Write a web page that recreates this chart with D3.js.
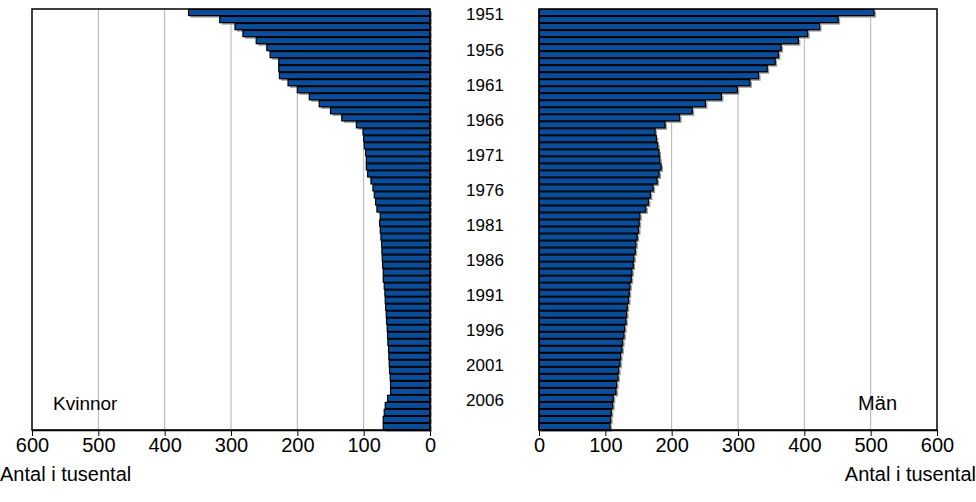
<!DOCTYPE html>
<html>
<head>
<meta charset="utf-8">
<script src="https://cdnjs.cloudflare.com/ajax/libs/d3/7.8.5/d3.min.js"></script>
<style>
  body { margin: 0; background: #fff; }
  text { font-family: "Liberation Sans", Arial, sans-serif; }
</style>
</head>
<body>
<div id="chart"></div>
<script>
// years 1951-2010, values in thousands
let years = d3.range(1951, 2011)
let kvinnor = [
    364, 317, 294, 282, 262, 246, 241, 228, 228, 227,
    214, 200, 182, 167, 150, 133, 111, 101, 100, 99,
    97, 96, 96, 94, 89, 86, 84, 82, 80, 75,
    76, 75, 74, 73, 72.5, 72, 71.5, 70.5, 70.5, 69,
    68, 67.5, 67, 66, 65.5, 64.5, 64, 63.5, 62.5, 62,
    61.5, 61, 60, 59.5, 59.5, 64, 67.5, 69, 70.5, 70.5
]
let man = [
    505, 451, 423, 405, 391, 365, 361, 356, 344, 331,
    318, 299, 275, 251, 231, 212, 190, 175, 177, 179,
    181, 182, 184, 181, 178, 172, 168, 165, 161, 152,
    151, 150, 148, 146, 145, 143, 142, 140, 139, 137,
    136, 135, 133, 132, 131, 129, 128, 126, 125, 123,
    122, 120, 119, 117, 116, 112, 111, 109, 108, 107
]
let ticks = [0, 100, 200, 300, 400, 500, 600]
let yearLabels = [1951, 1956, 1961, 1966, 1971, 1976, 1981, 1986, 1991, 1996, 2001, 2006]

let width = 976
let height = 502
let plotTop = 9
let plotBottom = 430

let svg = d3.select("#chart")
    .append("svg")
    .attr("width", width)
    .attr("height", height)

let y = d3.scaleBand()
    .domain(years)
    .range([plotTop, plotBottom])
    .paddingInner(0.12)
    .paddingOuter(0.06)

let xLeft = d3.scaleLinear().domain([0, 600]).range([430, 32])
let xRight = d3.scaleLinear().domain([0, 600]).range([539, 937])

drawPanel(xLeft, kvinnor)
drawPanel(xRight, man)

function drawPanel(x, values) {
    let g = svg.append("g")
    let x0 = Math.min(x.range()[0], x.range()[1])
    let x1 = Math.max(x.range()[0], x.range()[1])

    // grid
    g.selectAll(".grid")
        .data(ticks.filter(t => t > 0 && t < 600))
        .enter()
        .append("line")
        .attr("x1", d => x(d))
        .attr("x2", d => x(d))
        .attr("y1", plotTop)
        .attr("y2", plotBottom)
        .attr("stroke", "#b0b0b0")
        .attr("stroke-width", 1)

    // shadows
    g.selectAll(".shadow")
        .data(values)
        .enter()
        .append("rect")
        .attr("x", d => Math.min(x(0), x(d)) + 2)
        .attr("y", (d, i) => y(years[i]) + 2)
        .attr("width", d => Math.abs(x(d) - x(0)))
        .attr("height", y.bandwidth())
        .attr("fill", "#9a9a9a")

    // bars
    g.selectAll(".bar")
        .data(values)
        .enter()
        .append("rect")
        .attr("x", d => Math.min(x(0), x(d)))
        .attr("y", (d, i) => y(years[i]))
        .attr("width", d => Math.abs(x(d) - x(0)))
        .attr("height", y.bandwidth())
        .attr("fill", "#0A4D9B")
        .attr("stroke", "#000")
        .attr("stroke-width", 1.2)

    // frame
    g.append("rect")
        .attr("x", x0)
        .attr("y", plotTop)
        .attr("width", x1 - x0)
        .attr("height", plotBottom - plotTop)
        .attr("fill", "none")
        .attr("stroke", "#000")
        .attr("stroke-width", 1.5)

    // axis
    let axis = d3.axisBottom(x)
        .tickValues(ticks)
        .tickSize(6)
        .tickSizeOuter(0)
        .tickPadding(2)
    let ax = g.append("g")
        .attr("transform", "translate(0," + plotBottom + ")")
        .call(axis)
    ax.select(".domain").attr("stroke", "#000").attr("stroke-width", 1.5)
    ax.selectAll(".tick line").attr("stroke", "#000")
    ax.selectAll(".tick text")
        .attr("font-size", 20)
        .attr("font-family", "Liberation Sans, Arial, sans-serif")
        .attr("fill", "#000")
}

// year labels
svg.selectAll(".year")
    .data(yearLabels)
    .enter()
    .append("text")
    .attr("x", 485)
    .attr("y", d => y(d) + y.bandwidth() / 2 + 2)
    .attr("dy", "0.35em")
    .attr("text-anchor", "middle")
    .attr("font-size", 17)
    .text(d => d)

svg.append("text")
    .attr("x", 53)
    .attr("y", 410)
    .attr("font-size", 19)
    .text("Kvinnor")

svg.append("text")
    .attr("x", 897)
    .attr("y", 410)
    .attr("text-anchor", "end")
    .attr("font-size", 20)
    .text("Män")

svg.append("text")
    .attr("x", 0)
    .attr("y", 481)
    .attr("font-size", 20)
    .text("Antal i tusental")

svg.append("text")
    .attr("x", 976)
    .attr("y", 481)
    .attr("text-anchor", "end")
    .attr("font-size", 20)
    .text("Antal i tusental")
</script>
</body>
</html>
